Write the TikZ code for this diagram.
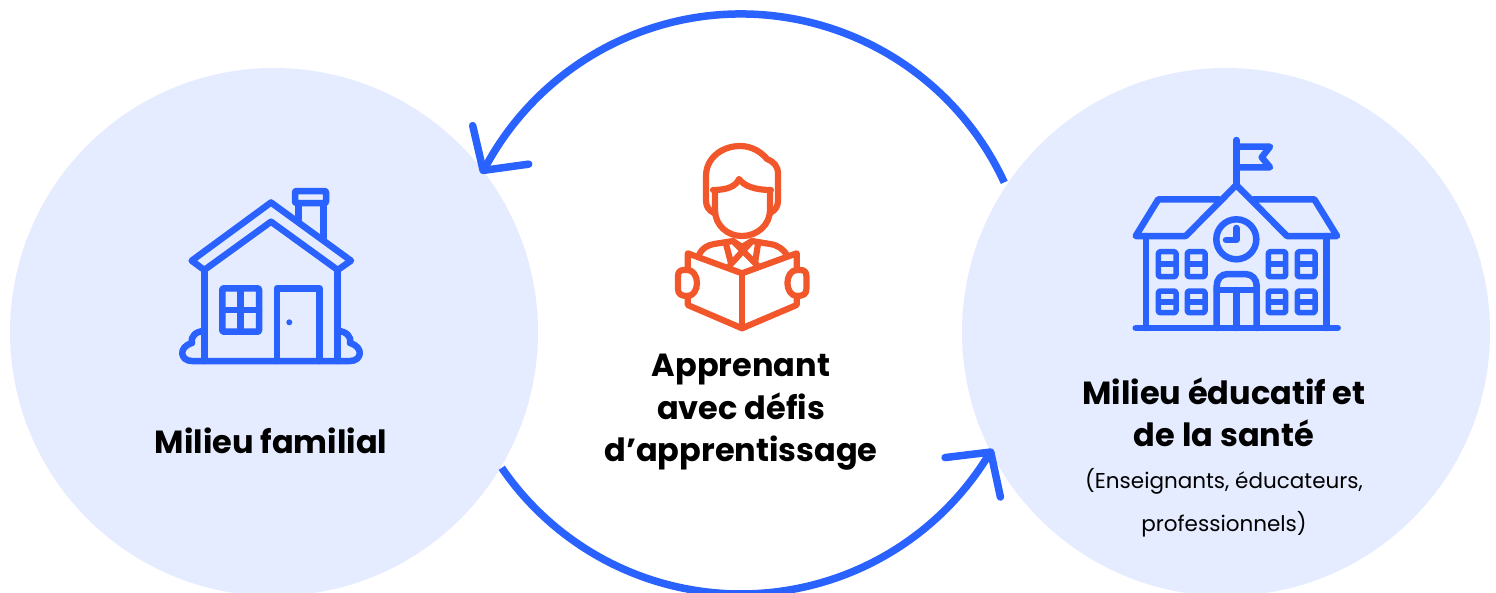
\documentclass[tikz,border=0pt]{standalone}
\usepackage{fontspec}
\setmainfont{Poppins}
\usetikzlibrary{arrows.meta}
\definecolor{iconblue}{HTML}{2962FF}
\definecolor{softblue}{HTML}{E5ECFF}
\definecolor{iconred}{HTML}{F2572B}
\tikzset{
    milieu/.style={circle, fill=softblue, minimum size=528pt, inner sep=0pt},
    boucle/.style={draw=iconblue, line width=7.5pt, line join=round, -{Straight Barb[length=31pt, width=68pt, round]}},
    trait/.style={draw=iconblue, line width=6.5pt, line join=round, line cap=round},
    fenetre/.style={draw=iconblue, line width=5.5pt, line join=round, rounded corners=1.5pt},
    lecteur/.style={draw=iconred, line width=6.2pt, line join=round, line cap=round},
    titre/.style={align=center, inner sep=0pt, font=\fontsize{32}{42.5}\selectfont\bfseries},
    detail/.style={align=center, inner sep=0pt, font=\fontsize{21.5}{43}\selectfont}
}
\begin{document}
\begin{tikzpicture}[x=1pt, y=1pt, yscale=-1]
            \clip (0,0) rectangle (1496,592);
            \node[milieu] (famille) at (274,332) {};
            \node[milieu] (ecole) at (1226,332) {};
            \coordinate (centre) at (741,304);
            \coordinate (pointehaut) at (481,173.5);
            \coordinate (pointebas) at (992.9,449);

            \draw[boucle] (centre) ++(-24.8:290) arc[start angle=-24.8, end angle=-151.9, radius=290] -- (pointehaut);
            \draw[boucle] (centre) ++(145.6:290) arc[start angle=145.6, end angle=31.5, radius=290] -- (pointebas);

            \node[titre] (tfamille) at (271,441) {Milieu familial};
            \node[titre] (tapprenant) at (741,412.5) {Apprenant\\avec défis\\d’apprentissage};
            \node[titre] (tecole) at (1224,412.5) {Milieu éducatif et\\de la santé};
            \node[detail] (tdetail) at (1224,503) {(Enseignants, éducateurs,\\professionnels)};

            % maison
            \draw[trait] (271,202.5) -- (351,260.7) -- (337.7,270) -- (271,221.7) -- (204.3,270) -- (191.7,260.7) -- cycle;
            \draw[trait] (204.3,270) -- (204.3,361);
            \draw[trait] (337.7,270) -- (337.7,361);
            \draw[trait] (298.3,203) -- (298.3,220);
            \draw[trait] (323.3,203) -- (323.3,238);
            \draw[trait, rounded corners=1pt] (295,191) rectangle (326,203);
            \draw[trait, rounded corners=1pt] (222.3,288.3) rectangle (259,331.7);
            \draw[trait] (240.7,288.3) -- (240.7,331.7);
            \draw[trait] (222.3,310) -- (259,310);
            \draw[trait] (277,361) -- (277,288.3) -- (319.7,288.3) -- (319.7,361);
            \fill[iconblue] (289.3,322.3) circle (3);
            \draw[trait] (204.3,331) .. controls (196,331) and (190,337) .. (192,343) .. controls (178,347) and (180,361) .. (192,361) -- (350,361) .. controls (362,361) and (364,347) .. (350,343) .. controls (352,337) and (346,331) .. (337.7,331);

            % lecteur
            \draw[lecteur] (687.7,270) -- (687.7,253.3) -- (742,273.3) -- (796.7,253.3) -- (796.7,270);
            \draw[lecteur] (687.7,296) -- (687.7,305) -- (742,328.3) -- (796.7,305) -- (796.7,296);
            \draw[lecteur] (742,273.3) -- (742,328.3);
            \draw[lecteur] (687.7,270) -- (684,270) .. controls (680,270) and (678,272) .. (678,276) -- (678,289) .. controls (678,294) and (681,296) .. (687.7,296) .. controls (693,296) and (697,290) .. (697,283) .. controls (697,276) and (693,270) .. (687.7,270);
            \draw[lecteur] (796.7,270) -- (800.4,270) .. controls (804.4,270) and (806.4,272) .. (806.4,276) -- (806.4,289) .. controls (806.4,294) and (803.4,296) .. (796.7,296) .. controls (791.4,296) and (787.4,290) .. (787.4,283) .. controls (787.4,276) and (791.4,270) .. (796.7,270);
            \draw[lecteur] (714,213) .. controls (708,210) and (706,206) .. (706,200) -- (706,176) .. controls (706,158) and (722,146) .. (740,146) .. controls (753,146) and (762,153) .. (767,159) .. controls (774,162) and (778,166) .. (778,174) -- (778,200) .. controls (778,206) and (776,210) .. (770,213);
            \draw[lecteur] (715,190) -- (715,210) .. controls (715,225) and (727,236) .. (742,236) .. controls (757,236) and (770,225) .. (770,210) -- (770,190);
            \draw[lecteur] (713,190) .. controls (728,190) and (736,186) .. (739,179) .. controls (744,186) and (755,190) .. (771,190);
            \draw[lecteur] (699,255) .. controls (702,248) and (708,245) .. (714,244) -- (733,241) -- (742,247) -- (752,241) -- (770,244) .. controls (778,245) and (784,250) .. (787,255);
            \draw[lecteur] (726,244) -- (731,263);
            \draw[lecteur] (758,244) -- (755,263);
            \draw[lecteur] (733,241) -- (757,265);
            \draw[lecteur] (752,241) -- (730,265);

            % ecole
            \draw[trait] (1236.3,185) -- (1236.3,140);
            \draw[trait] (1236.3,146.7) -- (1270,146.7) -- (1261.7,157.3) -- (1270,167.3) -- (1236.3,167.3);
            \draw[trait] (1219,199.3) -- (1158.3,199.3) -- (1135.7,236) -- (1185.7,236) -- (1236.3,185) -- (1287,236) -- (1337,236) -- (1314.3,199.3) -- (1253.6,199.3);
            \draw[trait] (1146,236) -- (1146,328);
            \draw[trait] (1326.7,236) -- (1326.7,328);
            \draw[trait] (1135.7,328) -- (1337.7,328);
            \draw[trait] (1236.3,239.3) circle (20);
            \draw[trait] (1236.3,228) -- (1236.3,240) -- (1226,240);
            \foreach \xa/\xb in {1158.3/1176, 1187.3/1205, 1268.3/1285.7, 1297.3/1315} {
                \draw[fenetre] (\xa,251.7) rectangle (\xb,276.7);
                \draw[fenetre] (\xa,264) -- (\xb,264);
                \draw[fenetre] (\xa,291) rectangle (\xb,312.7);
                \draw[fenetre] (\xa,301.8) -- (\xb,301.8);
            }
            \draw[trait] (1216.7,328) -- (1216.7,286) .. controls (1216.7,279) and (1221,274) .. (1228,274) -- (1245,274) .. controls (1252,274) and (1256.7,279) .. (1256.7,286) -- (1256.7,328);
            \draw[trait] (1216.7,290) -- (1256.7,290);
            \draw[trait] (1236.7,290) -- (1236.7,328);
        \end{tikzpicture}
\end{document}
